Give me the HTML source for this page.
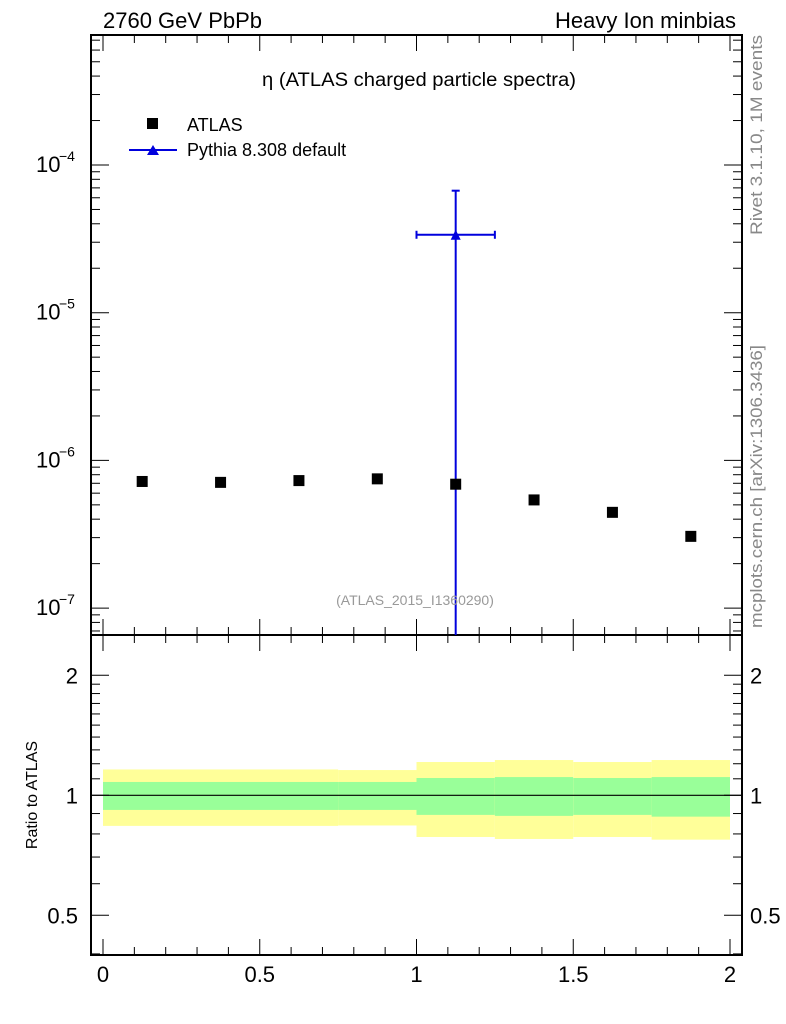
<!DOCTYPE html>
<html><head><meta charset="utf-8"><style>
body{margin:0;background:#fff}
svg{display:block;font-family:"Liberation Sans",sans-serif}
</style></head><body>
<svg id="c" width="786" height="1024" viewBox="0 0 786 1024"></svg>
<script>
const atlasX=[0.125,0.375,0.625,0.875,1.125,1.375,1.625,1.875];
const atlasY=[7.2e-7,7.1e-7,7.3e-7,7.5e-7,6.9e-7,5.4e-7,4.45e-7,3.06e-7];
const pyX=[1.125];
const pyY=[3.37e-5];
const pyErrUp=[6.7e-5];
const pyErrDn=[1e-9];
const pyXlo=[1.0];
const pyXhi=[1.25];
const binLo=[0,0.75,1.0,1.25,1.5,1.75];
const binHi=[0.75,1.0,1.25,1.5,1.75,2.0];
const yelHi=[1.161,1.157,1.212,1.226,1.212,1.226];
const yelLo=[0.838,0.840,0.786,0.777,0.786,0.774];
const grnHi=[1.080,1.080,1.105,1.111,1.105,1.111];
const grnLo=[0.919,0.919,0.893,0.888,0.893,0.884];
const xTicks=[0,0.5,1,1.5,2];
const xTickLabels=["0","0.5","1","1.5","2"];
const yDecades=[-4,-5,-6,-7];
const rTicks=[0.5,1,2];
const rTickLabels=["0.5","1","2"];

const L=91,R=742,T=35,M=635,B=955;
const X=v=>103+v*313.5;
const Y=v=>165-(Math.log10(v)+4)*147.7;
const RY=v=>795.3-Math.log10(v)*398.6;
const svg=document.getElementById('c');
const NS='http://www.w3.org/2000/svg';
function mk(tag,attrs,text){const e=document.createElementNS(NS,tag);for(const k in attrs)e.setAttribute(k,attrs[k]);if(text!==undefined)e.textContent=text;svg.appendChild(e);return e;}
function line(x1,y1,x2,y2,st,w){return mk('line',{x1,y1,x2,y2,stroke:st||'#000','stroke-width':w||1});}

for(let i=0;i<binLo.length;i++){
 let r=mk('rect',{x:X(binLo[i]),y:RY(yelHi[i]),width:X(binHi[i])-X(binLo[i]),height:RY(yelLo[i])-RY(yelHi[i]),fill:'#ffff99'});
 
 
 let g=mk('rect',{x:X(binLo[i]),y:RY(grnHi[i]),width:X(binHi[i])-X(binLo[i]),height:RY(grnLo[i])-RY(grnHi[i]),fill:'#99ff99'});
 
 
}
line(L,RY(1),R,RY(1),'#000',1.2);

let f1=mk('rect',{x:L,y:T,width:R-L,height:M-T,fill:'none',stroke:'#000','stroke-width':2});

let f2=mk('rect',{x:L,y:M,width:R-L,height:B-M,fill:'none',stroke:'#000','stroke-width':2});


for(let v=0;v<=2.0001;v+=0.05){
 const major=Math.abs(v*2-Math.round(v*2))<1e-6;
 const minor10=Math.abs(v*10-Math.round(v*10))<1e-6;
 const len=major?16:(minor10?8:5);
 if(!major&&!minor10)continue;
 const x=X(v);
 line(x,T,x,T+len);line(x,M,x,M-len);line(x,M,x,M+len);line(x,B,x,B-len);
}
xTicks.forEach((v,i)=>{let t=mk('text',{x:X(v),y:982,'font-size':22,'text-anchor':'middle'},xTickLabels[i]);
 });

for(let d=-8;d<=-3;d++){for(let m=1;m<10;m++){const v=m*Math.pow(10,d);const y=Y(v);if(y<T||y>M)continue;const len=m==1?18:9;line(L,y,L+len,y);line(R,y,R-len,y);}}
yDecades.forEach(d=>{const y=Y(Math.pow(10,d));let t=mk('text',{x:36,y:y+7,'font-size':22},'10');
 
 mk('text',{x:59,y:y-4,'font-size':14},'\u2212'+(-d));});

for(let v=0.4;v<=2.5;v+=(v<0.999?0.1:(v<1.999?0.1:0.5))){const y=RY(v);if(y<M||y>B)continue;const maj=rTicks.some(r=>Math.abs(r-v)<1e-6);const len=maj?18:9;line(L,y,L+len,y);line(R,y,R-len,y);}
rTicks.forEach((v,i)=>{const y=RY(v)+8;
 let t=mk('text',{x:78,y,'font-size':22,'text-anchor':'end'},rTickLabels[i]);
 let t2=mk('text',{x:750,y,'font-size':22},rTickLabels[i]);});

pyX.forEach((v,i)=>{
 const y=Y(pyY[i]);const yt=Y(pyErrUp[i]);const yb=Math.min(M,Y(pyErrDn[i]));
 let e=line(X(v),yt,X(v),yb,'#0000dd',2);
 line(X(v)-4,yt,X(v)+4,yt,'#0000dd',2);
 line(X(pyXlo[i]),y,X(pyXhi[i]),y,'#0000dd',2);
 line(X(pyXlo[i]),y-4,X(pyXlo[i]),y+4,'#0000dd',2);line(X(pyXhi[i]),y-4,X(pyXhi[i]),y+4,'#0000dd',2);
 let p=mk('polygon',{points:`${X(v)-5},${y+5} ${X(v)+5},${y+5} ${X(v)},${y-5}`,fill:'#0000dd'});
 
});
atlasX.forEach((v,i)=>{let r=mk('rect',{x:X(v)-5.5,y:Y(atlasY[i])-5.5,width:11,height:11,fill:'#000'});
 });

function txt(name,a,s){let t=mk('text',a,s);return t;}
txt('title-left',{x:103,y:28,'font-size':22},'2760 GeV PbPb');
txt('title-right',{x:736,y:28,'font-size':22,'text-anchor':'end'},'Heavy Ion minbias');
txt('plot-title',{x:262,y:86,'font-size':19,textLength:314,lengthAdjust:'spacingAndGlyphs'},'\u03B7 (ATLAS charged particle spectra)');
mk('rect',{x:147,y:118,width:11,height:11,fill:'#000'});
txt('legend-atlas',{x:187,y:131,'font-size':18},'ATLAS');
line(129,150,177,150,'#0000dd',2);
mk('polygon',{points:'147,155 159,155 153,145',fill:'#0000dd'});
txt('legend-pythia',{x:187,y:156,'font-size':18},'Pythia 8.308 default');
txt('analysis-id',{x:415,y:605,'font-size':14,'text-anchor':'middle',fill:'#999'},'(ATLAS_2015_I1360290)');
txt('y-axis-title-ratio',{x:37,y:795,'font-size':16,'text-anchor':'middle',transform:'rotate(-90 37 795)'},'Ratio to ATLAS');
txt('rivet-label',{x:0,y:0,'font-size':17,fill:'#888',textLength:200,lengthAdjust:'spacingAndGlyphs',transform:'translate(762 235) rotate(-90)'},'Rivet 3.1.10,  1M events');
txt('mcplots-label',{x:0,y:0,'font-size':17,fill:'#888',textLength:283,lengthAdjust:'spacingAndGlyphs',transform:'translate(762 628) rotate(-90)'},'mcplots.cern.ch [arXiv:1306.3436]');
</script>
</body></html>
